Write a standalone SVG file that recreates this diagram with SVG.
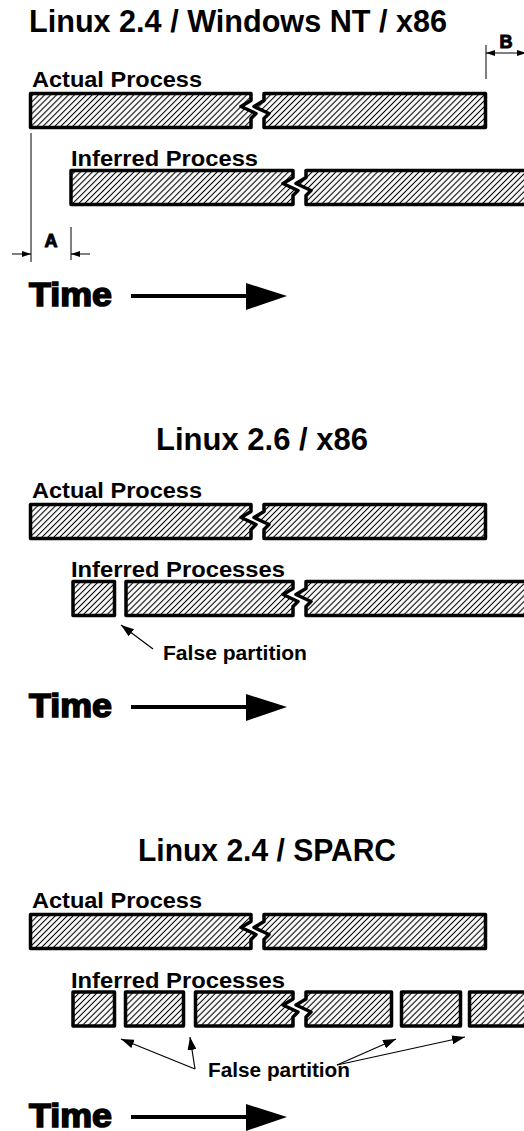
<svg xmlns="http://www.w3.org/2000/svg" width="524" height="1131" viewBox="0 0 524 1131">
<style>
.t{font-family:"Liberation Sans",Arial,sans-serif;font-weight:bold;fill:#000}
.title{font-size:31px}
.lbl{font-size:22.5px}
.fp{font-size:20px}
.time{font-size:33px;stroke:#000;stroke-width:1.6}
.dimt{font-size:18px;stroke:#000;stroke-width:1}
.bar{fill:url(#hatch);stroke:#000;stroke-width:3.5;stroke-linejoin:round}
.dim{stroke:#000;stroke-width:1;fill:none}
.conn{stroke:#000;stroke-width:1.2;fill:none}
.tarrow{stroke:#000;stroke-width:4;fill:none}
</style>
<defs>
<pattern id="hatch" patternUnits="userSpaceOnUse" width="4.2" height="4.2" patternTransform="rotate(45)">
<rect width="4.2" height="4.2" fill="#fff"/>
<line x1="2.1" y1="0" x2="2.1" y2="4.2" stroke="#000" stroke-width="1.1"/>
</pattern>
<marker id="ah" viewBox="0 0 13 9" refX="13" refY="4.5" markerWidth="13" markerHeight="9" markerUnits="userSpaceOnUse" orient="auto">
<path d="M0,0 L13,4.5 L0,9 Z" fill="#000"/>
</marker>
<marker id="sh" viewBox="0 0 9 6" refX="9" refY="3" markerWidth="9" markerHeight="6" markerUnits="userSpaceOnUse" orient="auto">
<path d="M0,0 L9,3 L0,6 Z" fill="#000"/>
</marker>
</defs>
<rect width="524" height="1131" fill="#fff"/>

<!-- Section 1 -->
<g id="sec1">
<text class="t title" x="29" y="32" textLength="418" lengthAdjust="spacingAndGlyphs">Linux 2.4 / Windows NT / x86</text>
<text class="t lbl" x="32" y="87" textLength="170" lengthAdjust="spacingAndGlyphs">Actual Process</text>
<g id="s1-actual">
<path class="bar" d="M30.5,93.5 H251 V100.5 L241,106.5 L256,113.5 L251,118.5 V127.5 H30.5 Z"/>
<path class="bar" d="M264,93.5 H485.5 V127.5 H264 V118.5 L269,113.5 L254,106.5 L264,100.5 Z"/>
</g>
<text class="t lbl" x="71" y="166" textLength="187" lengthAdjust="spacingAndGlyphs">Inferred Process</text>
<g id="s1-inferred">
<path class="bar" d="M71,170.5 H293 V177.5 L283,183.5 L298,190.5 L293,195.5 V204.5 H71 Z"/>
<path class="bar" d="M306,170.5 H545 V204.5 H306 V195.5 L311,190.5 L296,183.5 L306,177.5 Z"/>
</g>
<g id="dimA">
<text class="t dimt" x="51" y="247" text-anchor="middle">A</text>
</g>
<g id="dimB">
<text class="t dimt" x="506" y="48" text-anchor="middle">B</text>
</g>
<g id="time1">
<text class="t time" x="29" y="306" textLength="83" lengthAdjust="spacingAndGlyphs">Time</text>
<line class="tarrow" x1="131" y1="296" x2="250" y2="296"/>
<polygon points="246,283 287,296 246,310" fill="#000"/>
</g>
</g>

<!-- Section 2 -->
<g id="sec2">
<text class="t title" x="156" y="450" textLength="212" lengthAdjust="spacingAndGlyphs">Linux 2.6 / x86</text>
<text class="t lbl" x="32" y="498" textLength="170" lengthAdjust="spacingAndGlyphs">Actual Process</text>
<g id="s2-actual">
<path class="bar" d="M30.5,504.5 H251 V511.5 L241,517.5 L256,524.5 L251,529.5 V538.5 H30.5 Z"/>
<path class="bar" d="M264,504.5 H485.5 V538.5 H264 V529.5 L269,524.5 L254,517.5 L264,511.5 Z"/>
</g>
<text class="t lbl" x="71" y="577" textLength="214" lengthAdjust="spacingAndGlyphs">Inferred Processes</text>
<g id="s2-inferred">
<rect class="bar" x="73" y="581.5" width="41.5" height="34"/>
<path class="bar" d="M126,581.5 H293 V588.5 L283,594.5 L298,601.5 L293,606.5 V615.5 H126 Z"/>
<path class="bar" d="M306,581.5 H545 V615.5 H306 V606.5 L311,601.5 L296,594.5 L306,588.5 Z"/>
</g>
<text class="t fp" x="163" y="660" textLength="144" lengthAdjust="spacingAndGlyphs">False partition</text>
<g id="time2">
<text class="t time" x="29" y="717" textLength="83" lengthAdjust="spacingAndGlyphs">Time</text>
<line class="tarrow" x1="131" y1="707" x2="250" y2="707"/>
<polygon points="246,694 287,707 246,721" fill="#000"/>
</g>
</g>

<!-- Section 3 -->
<g id="sec3">
<text class="t title" x="138" y="861" textLength="258" lengthAdjust="spacingAndGlyphs">Linux 2.4 / SPARC</text>
<text class="t lbl" x="32" y="908" textLength="170" lengthAdjust="spacingAndGlyphs">Actual Process</text>
<g id="s3-actual">
<path class="bar" d="M30.5,914.5 H251 V921.5 L241,927.5 L256,934.5 L251,939.5 V948.5 H30.5 Z"/>
<path class="bar" d="M264,914.5 H485.5 V948.5 H264 V939.5 L269,934.5 L254,927.5 L264,921.5 Z"/>
</g>
<text class="t lbl" x="71" y="988" textLength="214" lengthAdjust="spacingAndGlyphs">Inferred Processes</text>
<g id="s3-inferred">
<rect class="bar" x="73" y="992" width="41.5" height="34"/>
<rect class="bar" x="125.5" y="992" width="58" height="34"/>
<path class="bar" d="M195.5,992 H293 V999 L283,1005 L298,1012 L293,1017 V1026 H195.5 Z"/>
<path class="bar" d="M306,992 H391.5 V1026 H306 V1017 L311,1012 L296,1005 L306,999 Z"/>
<rect class="bar" x="401.5" y="992" width="59" height="34"/>
<rect class="bar" x="469.5" y="992" width="80" height="34"/>
</g>
<text class="t fp" x="208" y="1077" textLength="142" lengthAdjust="spacingAndGlyphs">False partition</text>
<g id="time3">
<text class="t time" x="29" y="1127" textLength="83" lengthAdjust="spacingAndGlyphs">Time</text>
<line class="tarrow" x1="131" y1="1117" x2="250" y2="1117"/>
<polygon points="246,1104 287,1117 246,1131" fill="#000"/>
</g>
</g>

<!-- Connectors -->
<g id="connectors">
<line class="dim" x1="31" y1="133" x2="31" y2="262"/>
<line class="dim" x1="71" y1="227" x2="71" y2="260"/>
<line class="dim" x1="12" y1="254" x2="31" y2="254" marker-end="url(#sh)"/>
<line class="dim" x1="90" y1="254" x2="71" y2="254" marker-end="url(#sh)"/>
<line class="dim" x1="486" y1="45" x2="486" y2="79"/>
<line class="dim" x1="506" y1="53" x2="486" y2="53" marker-end="url(#sh)"/>
<line class="dim" x1="506" y1="53" x2="526" y2="53" marker-end="url(#sh)"/>
<line class="conn" x1="153" y1="649" x2="121" y2="625" marker-end="url(#ah)"/>
<line class="conn" x1="195" y1="1069" x2="121" y2="1039" marker-end="url(#ah)"/>
<line class="conn" x1="195" y1="1069" x2="190" y2="1037" marker-end="url(#ah)"/>
<line class="conn" x1="337" y1="1065" x2="396" y2="1039" marker-end="url(#ah)"/>
<line class="conn" x1="337" y1="1065" x2="465" y2="1037" marker-end="url(#ah)"/>
</g>
</svg>
